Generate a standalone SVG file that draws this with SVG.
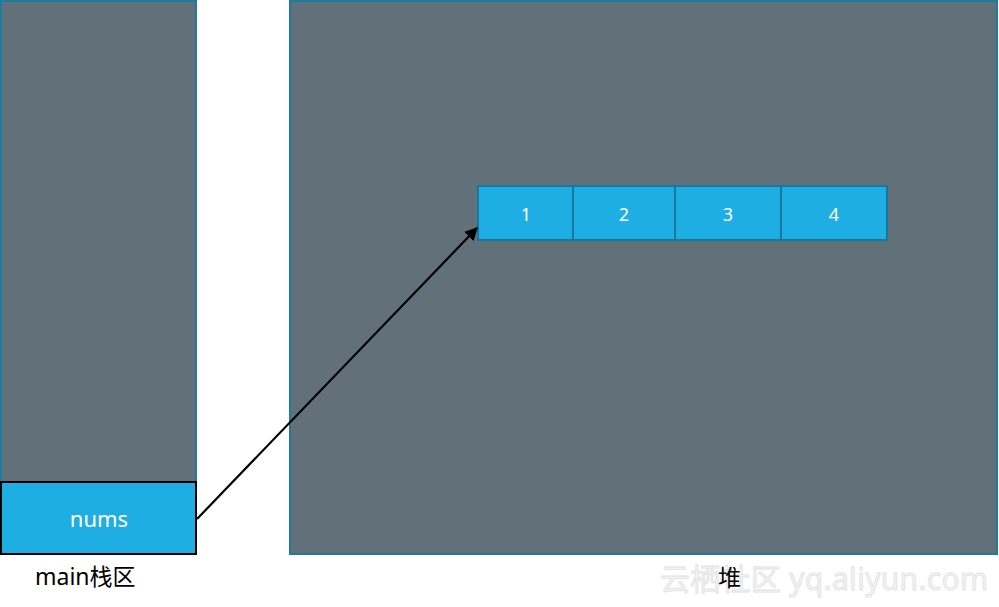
<svg xmlns="http://www.w3.org/2000/svg" width="999" height="607" viewBox="0 0 999 607">
<style>
.area{fill:#627179;stroke:#1d7b9b;stroke-width:2}
.cell{fill:#1eaee3;stroke:#16789a;stroke-width:2}
.num{font-family:"Noto Sans","Open Sans",sans-serif;font-size:18px;fill:#ffffff;text-anchor:middle}
.lbl{font-family:"Noto Sans","Noto Sans CJK SC",sans-serif;font-size:23px;fill:#000000}
.wm{font-family:"Noto Sans","Noto Sans CJK SC",sans-serif;font-size:30px;fill:#f3f3f3;stroke:#e2e2e2;stroke-width:0.8}
</style>
<defs>
<marker id="ah" viewBox="0 0 10 10" refX="9" refY="5" markerWidth="6" markerHeight="6" orient="auto" markerUnits="strokeWidth">
<path d="M0,0 L10,5 L0,10 z" fill="#000"/>
</marker>
</defs>
<rect width="999" height="607" fill="#ffffff"/>
<text class="wm" x="660" y="590" textLength="328">云栖社区 yq.aliyun.com</text>
<g id="stack">
<rect class="area" x="1" y="1" width="195" height="482"/>
</g>
<g id="heap">
<rect class="area" x="290" y="1" width="707" height="553"/>
</g>
<g id="nums">
<rect x="1" y="482" width="195" height="72" fill="#1eaee3" stroke="#000" stroke-width="2"/>
<text x="99" y="527" font-family="Noto Sans, Open Sans, sans-serif" font-size="22" fill="#fff" text-anchor="middle">nums</text>
</g>
<g id="array">
<rect class="cell" x="478" y="186" width="95" height="54"/>
<rect class="cell" x="573" y="186" width="102" height="54"/>
<rect class="cell" x="675" y="186" width="106" height="54"/>
<rect class="cell" x="781" y="186" width="106" height="54"/>
<text class="num" x="526" y="221">1</text>
<text class="num" x="624" y="221">2</text>
<text class="num" x="728" y="221">3</text>
<text class="num" x="834" y="221">4</text>
</g>
<g id="connectors">
<line x1="197" y1="519" x2="477" y2="228" stroke="#000" stroke-width="2.2" marker-end="url(#ah)"/>
</g>
<text class="lbl" x="35" y="585">main栈区</text>
<text class="lbl" x="718" y="586">堆</text>
</svg>
